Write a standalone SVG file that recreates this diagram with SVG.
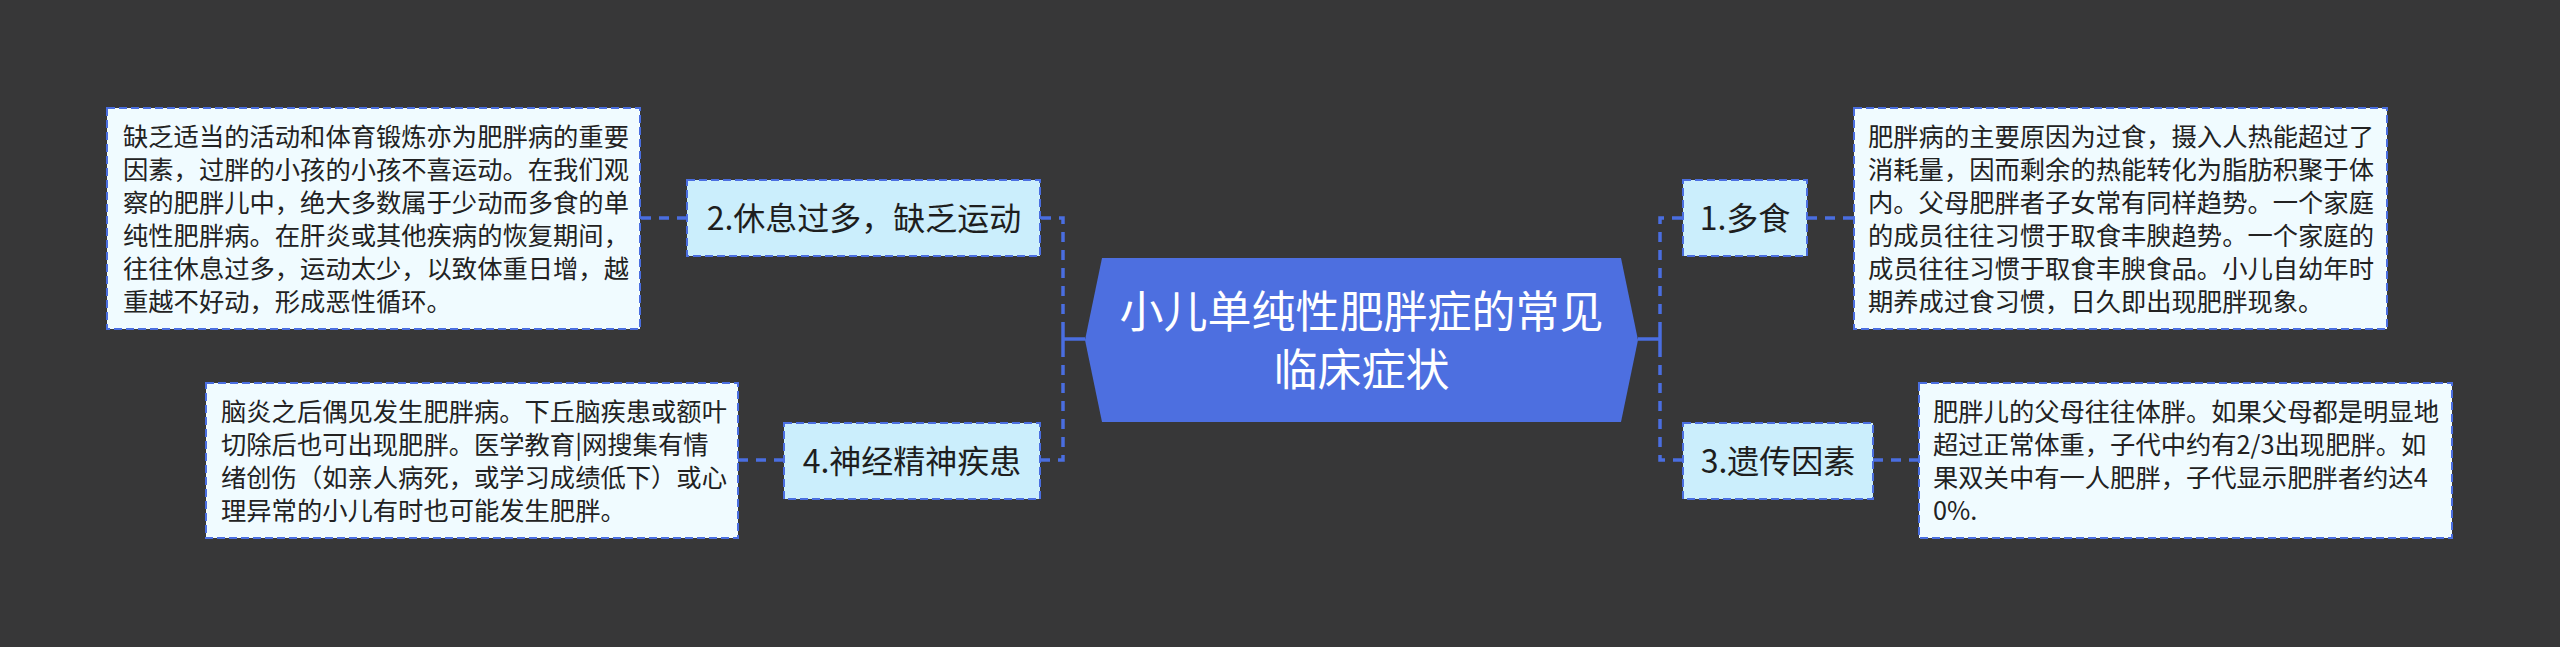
<svg xmlns="http://www.w3.org/2000/svg" width="2560" height="647" viewBox="0 0 2560 647">
<style>
.bg{fill:#373738}
.leaf{fill:#f0fbff;stroke:#4a6ee0;stroke-width:2;stroke-dasharray:8 4}
.mid{fill:#cbeefc;stroke:#4a6ee0;stroke-width:2;stroke-dasharray:8 4}
.center{fill:#4d6fe0}
.lt{font-family:"Noto Sans CJK SC","Noto Sans",sans-serif;font-size:25.3px;fill:#222222}
.mt{font-family:"Noto Sans CJK SC","Noto Sans",sans-serif;font-size:32px;fill:#1e1e1e;text-anchor:middle}
.ct{font-family:"Noto Sans CJK SC","Noto Sans",sans-serif;font-size:44px;fill:#ffffff;text-anchor:middle}
.dash{fill:none;stroke:#4a6ee0;stroke-width:3.5;stroke-dasharray:10 8}
.solid{fill:none;stroke:#4a6ee0;stroke-width:3.5}
</style>
<rect class="bg" x="0" y="0" width="2560" height="647"/>
<g id="connectors">
  <path class="solid" d="M1085 339 H1063"/>
  <path class="solid" d="M1063 332 V347" stroke-width="4"/>
  <path class="dash" d="M1063 332 V218 H1040"/>
  <path class="dash" d="M1063 347 V460 H1040"/>
  <path class="solid" d="M1638 339 H1660"/>
  <path class="solid" d="M1660 332 V347" stroke-width="4"/>
  <path class="dash" d="M1660 332 V218 H1683"/>
  <path class="dash" d="M1660 347 V460 H1683"/>
  <path class="dash" d="M687 218 H640"/>
  <path class="dash" d="M784 460 H738"/>
  <path class="dash" d="M1807 218 H1854"/>
  <path class="dash" d="M1873 460 H1919"/>
</g>
<g id="center">
  <polygon class="center" points="1102,258 1621,258 1638,340 1621,422 1102,422 1085,340"/>
  <text class="ct" x="1361.5" y="328">小儿单纯性肥胖症的常见</text>
  <text class="ct" x="1361.5" y="386">临床症状</text>
</g>
<g id="node-rest">
  <rect class="mid" x="687" y="180" width="353" height="76"/>
  <text class="mt" x="864" y="229.5">2.休息过多，缺乏运动</text>
</g>
<g id="node-rest-detail">
  <rect class="leaf" x="107" y="108" width="533" height="221"/>
  <text class="lt">
    <tspan x="123" y="146">缺乏适当的活动和体育锻炼亦为肥胖病的重要</tspan>
    <tspan x="123" y="179">因素，过胖的小孩的小孩不喜运动。在我们观</tspan>
    <tspan x="123" y="212">察的肥胖儿中，绝大多数属于少动而多食的单</tspan>
    <tspan x="123" y="245">纯性肥胖病。在肝炎或其他疾病的恢复期间，</tspan>
    <tspan x="123" y="278">往往休息过多，运动太少，以致体重日增，越</tspan>
    <tspan x="123" y="311">重越不好动，形成恶性循环。</tspan>
  </text>
</g>
<g id="node-neuro">
  <rect class="mid" x="784" y="423" width="256" height="76"/>
  <text class="mt" x="912" y="472.5">4.神经精神疾患</text>
</g>
<g id="node-neuro-detail">
  <rect class="leaf" x="206" y="383" width="532" height="155"/>
  <text class="lt">
    <tspan x="221" y="421">脑炎之后偶见发生肥胖病。下丘脑疾患或额叶</tspan>
    <tspan x="221" y="454">切除后也可出现肥胖。医学教育|网搜集有情</tspan>
    <tspan x="221" y="487">绪创伤（如亲人病死，或学习成绩低下）或心</tspan>
    <tspan x="221" y="520">理异常的小儿有时也可能发生肥胖。</tspan>
  </text>
</g>
<g id="node-food">
  <rect class="mid" x="1683" y="180" width="124" height="76"/>
  <text class="mt" x="1745" y="229.5">1.多食</text>
</g>
<g id="node-food-detail">
  <rect class="leaf" x="1854" y="108" width="533" height="221"/>
  <text class="lt">
    <tspan x="1868" y="146">肥胖病的主要原因为过食，摄入人热能超过了</tspan>
    <tspan x="1868" y="179">消耗量，因而剩余的热能转化为脂肪积聚于体</tspan>
    <tspan x="1868" y="212">内。父母肥胖者子女常有同样趋势。一个家庭</tspan>
    <tspan x="1868" y="245">的成员往往习惯于取食丰腴趋势。一个家庭的</tspan>
    <tspan x="1868" y="278">成员往往习惯于取食丰腴食品。小儿自幼年时</tspan>
    <tspan x="1868" y="311">期养成过食习惯，日久即出现肥胖现象。</tspan>
  </text>
</g>
<g id="node-heredity">
  <rect class="mid" x="1683" y="423" width="190" height="76"/>
  <text class="mt" x="1778" y="472.5">3.遗传因素</text>
</g>
<g id="node-heredity-detail">
  <rect class="leaf" x="1919" y="383" width="533" height="155"/>
  <text class="lt">
    <tspan x="1933" y="421">肥胖儿的父母往往体胖。如果父母都是明显地</tspan>
    <tspan x="1933" y="454">超过正常体重，子代中约有2/3出现肥胖。如</tspan>
    <tspan x="1933" y="487">果双关中有一人肥胖，子代显示肥胖者约达4</tspan>
    <tspan x="1933" y="520">0%.</tspan>
  </text>
</g>
</svg>
